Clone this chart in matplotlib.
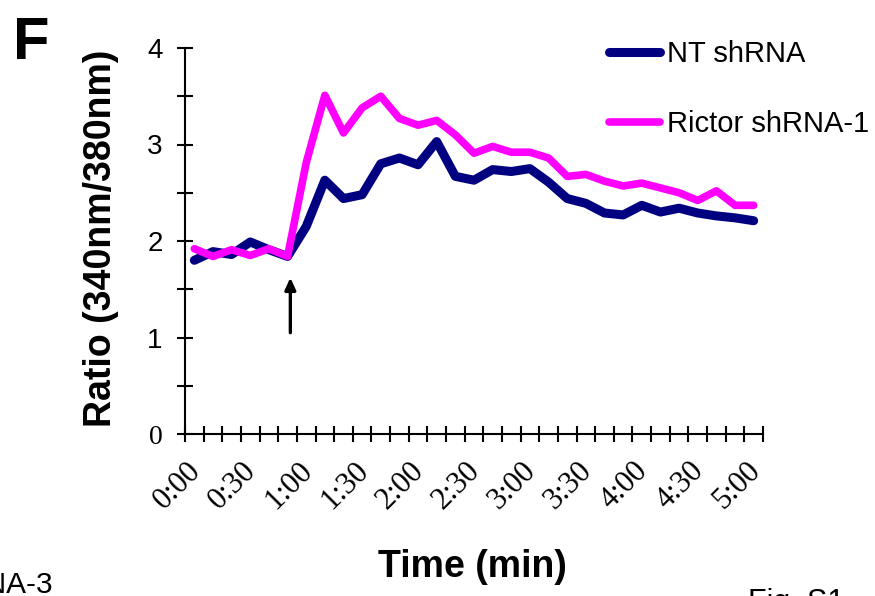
"""Fura-2 ratio trace, panel F: NT shRNA vs Rictor shRNA-1 over 5 min."""

import matplotlib

matplotlib.use("Agg")
import matplotlib.pyplot as plt  # noqa: E402
from matplotlib.transforms import ScaledTranslation  # noqa: E402

plt.rcParams["font.family"] = ["Liberation Sans", "DejaVu Sans"]

# one reading every 10 s, 0:00 .. 5:00
time_labels = ["0:00", "0:30", "1:00", "1:30", "2:00", "2:30",
               "3:00", "3:30", "4:00", "4:30", "5:00"]
n_points = 31
nt_shrna = [1.80, 1.89, 1.86, 1.99, 1.91, 1.84, 2.15, 2.63, 2.44, 2.48,
            2.80, 2.86, 2.79, 3.03, 2.67, 2.63, 2.74, 2.72, 2.75, 2.61,
            2.44, 2.39, 2.29, 2.27, 2.37, 2.30, 2.34, 2.29, 2.26, 2.24, 2.21]
rictor_shrna1 = [1.92, 1.84, 1.91, 1.85, 1.92, 1.84, 2.81, 3.51, 3.12, 3.38,
                 3.50, 3.27, 3.20, 3.25, 3.10, 2.91, 2.98, 2.92, 2.92, 2.86,
                 2.67, 2.69, 2.62, 2.57, 2.60, 2.55, 2.50, 2.42, 2.52, 2.37, 2.37]
stim_index = 5.15          # arrow: time of stimulus
arrow_tip, arrow_tail = 1.62, 1.05

NAVY, MAGENTA = "#000080", "#FF00FF"
SERIF = ["Liberation Serif", "DejaVu Serif"]

fig = plt.figure(figsize=(8.75, 5.96), dpi=100)
ax = fig.add_axes([185 / 875, 1 - 434 / 596, 578 / 875, 386 / 596])

x = list(range(n_points))
ax.plot(x, nt_shrna, color=NAVY, lw=6.5, solid_capstyle="round", label="NT shRNA")
ax.plot(x, rictor_shrna1, color=MAGENTA, lw=5.5, solid_capstyle="round",
        label="Rictor shRNA-1")

ax.annotate("", xy=(stim_index, arrow_tip), xytext=(stim_index, arrow_tail),
            arrowprops=dict(arrowstyle="-|>,head_length=0.7,head_width=0.32",
                            color="black", lw=2.4, shrinkA=0, shrinkB=0))

# axes: category style, ticks between the points, labels every 30 s
ax.set_xlim(-0.5, n_points - 0.5)
ax.set_ylim(0, 4)
for side in ("top", "right"):
    ax.spines[side].set_visible(False)
for side in ("left", "bottom"):
    ax.spines[side].set_linewidth(1.5)

ax.set_xticks([i - 0.5 for i in range(n_points + 1)], [""] * (n_points + 1))
ax.set_xticks(list(range(0, n_points, 3)), time_labels, minor=True,
              rotation=45, ha="right", va="top", rotation_mode="anchor",
              fontsize=22, family=SERIF)
ax.tick_params(axis="x", which="major", direction="inout", length=12, width=1.5)
ax.tick_params(axis="x", which="minor", length=0, pad=16)
# nudge the slanted labels a little left, as in the original
shift = ScaledTranslation(-6 / 72, 0, fig.dpi_scale_trans)
for lbl in ax.get_xticklabels(minor=True):
    lbl.set_transform(lbl.get_transform() + shift)

ax.set_yticks([0, 1, 2, 3, 4], ["0", "1", "2", "3", "4"], fontsize=20)
ax.set_yticks([0.5, 1.5, 2.5, 3.5], minor=True)
ax.tick_params(axis="y", which="both", direction="inout", length=12, width=1.5, pad=10)
ax.get_yticklabels()[0].set_family(SERIF)

ax.legend(loc="upper left", bbox_to_anchor=(609 / 875, 1 - 40 / 596),
          bbox_transform=fig.transFigure, frameon=False, fontsize=21,
          handlelength=1.75, handletextpad=0.25, labelspacing=1.45,
          borderpad=0, borderaxespad=0)

fig.text(101 / 875, 1 - 238 / 596, "Ratio (340nm/380nm)", rotation=90,
         fontsize=27, fontweight="bold", ha="center", va="center")
fig.text(472 / 875, 1 - 567 / 596, "Time (min)", fontsize=27,
         fontweight="bold", ha="center", va="center")
fig.text(13 / 875, 1 - 16 / 596, "F", fontsize=43, fontweight="bold",
         ha="left", va="top")

# neighbouring panels cut off by the crop
fig.text(53 / 875, 3 / 596, "Rictor shRNA-3", fontsize=21.5, ha="right",
         va="baseline")
fig.text(748 / 875, -15 / 596, "Fig. S1", fontsize=22, ha="left", va="baseline")

fig.savefig("out.png", dpi=100)
